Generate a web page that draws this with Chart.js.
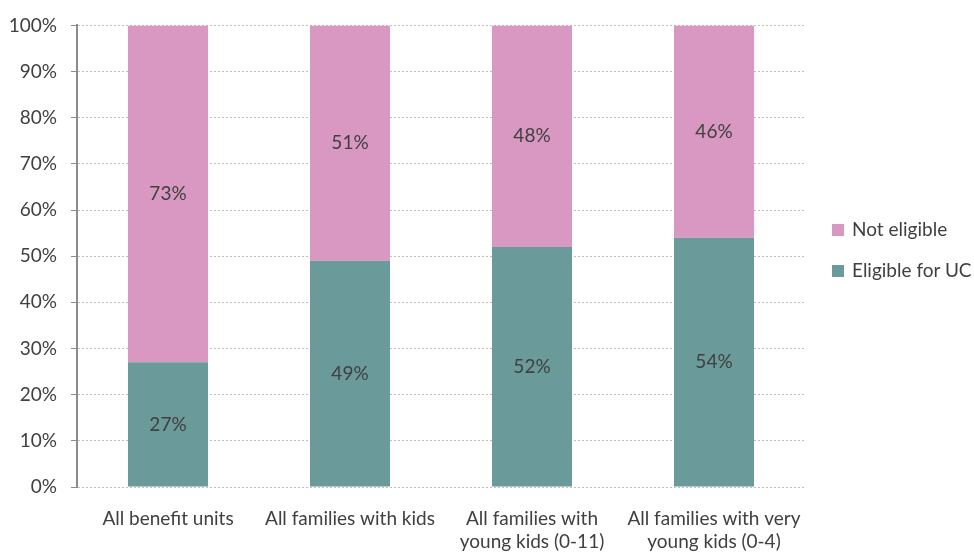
<!DOCTYPE html>
<html>
<head>
<meta charset="utf-8">
<script src="https://cdn.jsdelivr.net/npm/chart.js@4/dist/chart.umd.min.js"></script>
<style>
html,body{margin:0;padding:0;background:#fff;overflow:hidden;}
#wrap{position:relative;width:974px;height:552px;overflow:hidden;}
#c{position:absolute;left:0;top:0;}
.leg{position:absolute;left:832px;font-family:Lato,"Liberation Sans",sans-serif;font-size:19px;line-height:22px;color:#404040;white-space:nowrap;}
.leg span{display:inline-block;width:12px;height:12px;margin-right:8px;vertical-align:0px;}
</style>
</head>
<body>
<div id="wrap">
<canvas id="c" width="974" height="583"></canvas>
<div class="leg" style="top:218px;"><span style="background:#D898C2"></span>Not eligible</div>
<div class="leg" style="top:259px;"><span style="background:#6A9A99"></span>Eligible for UC</div>
</div>
<script>
const categories = [
  "All benefit units",
  "All families with kids",
  ["All families with", "young kids (0-11)"],
  ["All families with very", "young kids (0-4)"]
];
const eligibleForUC = [27, 49, 52, 54];
const notEligible = [73, 51, 48, 46];
const seriesNames = ["Eligible for UC", "Not eligible"];
const yTicks = [0, 10, 20, 30, 40, 50, 60, 70, 80, 90, 100];

const barLabels = {
  id: 'barLabels',
  afterDatasetsDraw(chart) {
    const ctx = chart.ctx;
    ctx.save();
    ctx.font = '19px Lato, "Liberation Sans", sans-serif';
    ctx.fillStyle = '#404040';
    ctx.textAlign = 'center';
    ctx.textBaseline = 'middle';
    chart.data.datasets.forEach((ds, i) => {
      chart.getDatasetMeta(i).data.forEach((bar, j) => {
        ctx.fillText(ds.data[j] + '%', bar.x, (bar.y + bar.base) / 2);
      });
    });
    ctx.restore();
  }
};

new Chart(document.getElementById('c'), {
  type: 'bar',
  data: {
    labels: categories,
    datasets: [
      { label: seriesNames[0], data: eligibleForUC, backgroundColor: '#6A9A99' },
      { label: seriesNames[1], data: notEligible, backgroundColor: '#D898C2' }
    ]
  },
  options: {
    responsive: false,
    animation: false,
    devicePixelRatio: 1,
    layout: { padding: { left: 0, right: 169, top: 21, bottom: 10 } },
    datasets: { bar: { categoryPercentage: 1, barPercentage: 0.44 } },
    plugins: { legend: { display: false }, tooltip: { enabled: false } },
    scales: {
      x: {
        stacked: true,
        grid: { display: false, drawTicks: false },
        border: { display: false },
        ticks: {
          padding: 20,
          color: '#404040',
          font: { family: 'Lato, "Liberation Sans", sans-serif', size: 19, lineHeight: '23px' },
          maxRotation: 0, autoSkip: false
        }
      },
      y: {
        stacked: true,
        min: 0, max: 100,
        afterFit(scale) { scale.width = 77; },
        afterBuildTicks(scale) { scale.ticks = yTicks.map(v => ({ value: v })); },
        grid: {
          color: '#BFBFBF',
          lineWidth: 1,
          tickLength: 6,
          tickColor: '#8C8C8C',
          tickBorderDash: [],
          drawTicks: true
        },
        border: { display: true, color: '#8C8C8C', width: 2, dash: [2, 2] },
        ticks: {
          padding: 14,
          color: '#404040',
          font: { family: 'Lato, "Liberation Sans", sans-serif', size: 19 },
          callback: v => v + '%'
        }
      }
    }
  },
  plugins: [barLabels]
});
</script>
</body>
</html>
